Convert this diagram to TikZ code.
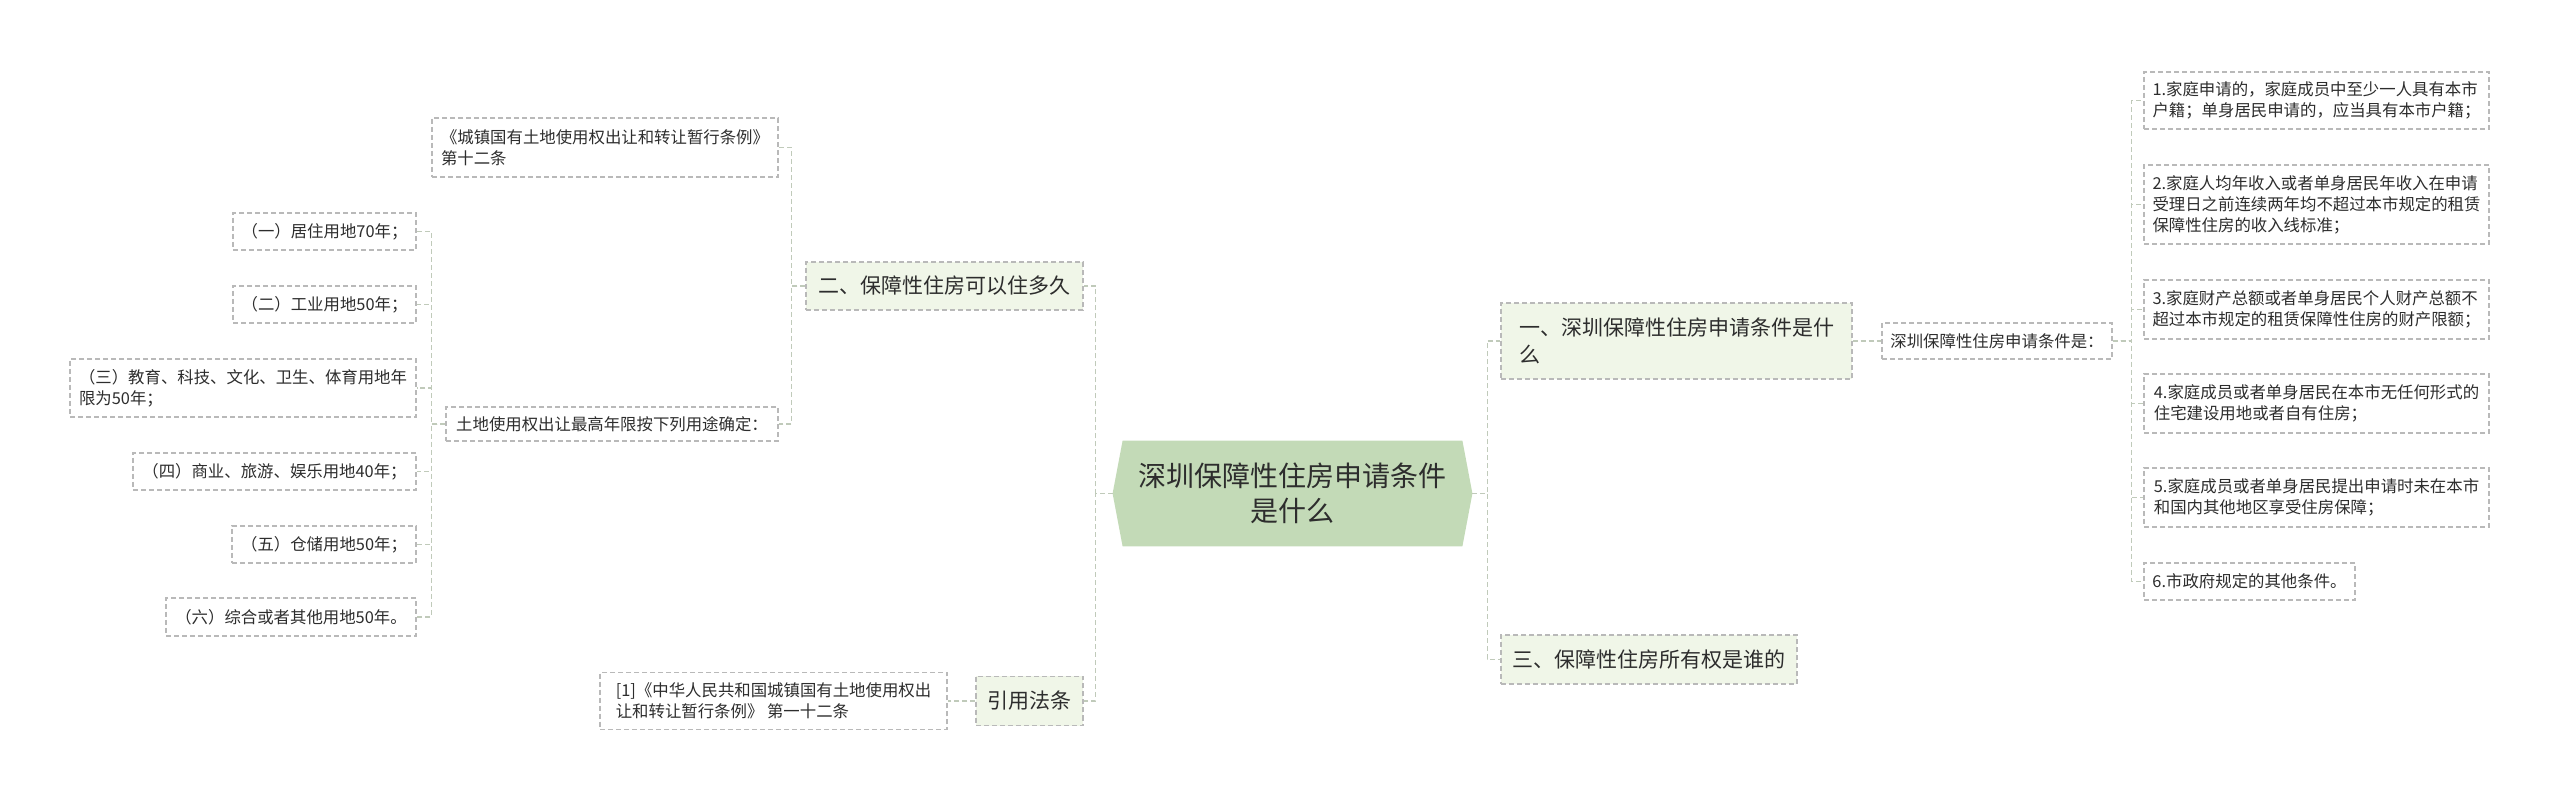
\documentclass[tikz,border=0pt]{standalone}
\usepackage{fontspec}
\setmainfont{Noto Sans CJK SC}
\usetikzlibrary{backgrounds}

\definecolor{rootgreen}{RGB}{195,218,183}
\definecolor{topicgreen}{RGB}{240,246,232}
\definecolor{boxgray}{RGB}{185,185,185}
\definecolor{linkgray}{RGB}{192,202,186}
\definecolor{txt}{RGB}{45,45,45}

\tikzset{
  root/.style={font=\fontsize{14pt}{17.5pt}\selectfont, align=center,
    minimum width=179.5pt, minimum height=52.5pt, inner sep=0pt, text=txt},
  topic/.style={draw=boxgray, dash pattern=on 2.5pt off 1.5pt, line width=0.6pt,
    fill=topicgreen, font=\fontsize{10.5pt}{13.5pt}\selectfont, align=left,
    inner xsep=4pt, inner ysep=2pt, text=txt},
  leaf/.style={draw=boxgray, dash pattern=on 2.5pt off 1.5pt, line width=0.6pt,
    fill=white, font=\fontsize{8.2pt}{10.5pt}\selectfont, align=left,
    inner xsep=4pt, inner ysep=2pt, text=txt},
  link/.style={draw=linkgray, dash pattern=on 2.5pt off 1.5pt, line width=0.75pt},
}

\begin{document}
\begin{tikzpicture}[x=0.5pt, y=-0.5pt]
    \path[use as bounding box] (0,0) rectangle (2560,801);

    % centre
    \node[root] (root) at (1292.5,493.5) {深圳保障性住房申请条件\\是什么};
    \begin{scope}[on background layer]
        \fill[rootgreen] (root.west) -- ([xshift=5pt]root.north west) -- ([xshift=-5pt]root.north east)
            -- (root.east) -- ([xshift=-5pt]root.south east) -- ([xshift=5pt]root.south west) -- cycle;
    \end{scope}

    % right branch
    \node[topic, minimum width=175.5pt, minimum height=38pt] (one) at (1676.5,341)
        {一、深圳保障性住房申请条件是什\\么};
    \node[topic, minimum width=148pt, minimum height=24.5pt] (three) at (1649,659.5)
        {三、保障性住房所有权是谁的};
    \node[leaf, minimum width=115pt, minimum height=18pt] (cond) at (1997,341)
        {深圳保障性住房申请条件是：};

    \node[leaf, minimum width=172.5pt, minimum height=28.5pt] (c1) at (2316.5,100.5)
        {1.家庭申请的，家庭成员中至少一人具有本市\\户籍；单身居民申请的，应当具有本市户籍；};
    \node[leaf, minimum width=172.5pt, minimum height=39.5pt] (c2) at (2316.5,204.5)
        {2.家庭人均年收入或者单身居民年收入在申请\\受理日之前连续两年均不超过本市规定的租赁\\保障性住房的收入线标准；};
    \node[leaf, minimum width=172.5pt, minimum height=29.5pt] (c3) at (2316.5,309.5)
        {3.家庭财产总额或者单身居民个人财产总额不\\超过本市规定的租赁保障性住房的财产限额；};
    \node[leaf, minimum width=172.5pt, minimum height=29.5pt] (c4) at (2316.5,403.5)
        {4.家庭成员或者单身居民在本市无任何形式的\\住宅建设用地或者自有住房；};
    \node[leaf, minimum width=172.5pt, minimum height=29.5pt] (c5) at (2316.5,497.5)
        {5.家庭成员或者单身居民提出申请时未在本市\\和国内其他地区享受住房保障；};
    \node[leaf, minimum width=105.5pt, minimum height=18.5pt] (c6) at (2249.5,581.5)
        {6.市政府规定的其他条件。};

    % left branch
    \node[topic, minimum width=138.5pt, minimum height=24pt] (two) at (944.5,286)
        {二、保障性住房可以住多久};
    \node[topic, minimum width=53.5pt, minimum height=24.5pt] (law) at (1029.5,701)
        {引用法条};
    \node[leaf, minimum width=173.5pt, minimum height=28.5pt] (cite) at (773.5,701)
        {[1]《中华人民共和国城镇国有土地使用权出\\让和转让暂行条例》 第一十二条};

    \node[leaf, minimum width=173pt, minimum height=29.5pt] (rule) at (605,147.5)
        {《城镇国有土地使用权出让和转让暂行条例》\\第十二条};
    \node[leaf, minimum width=166pt, minimum height=17pt] (term) at (612,424)
        {土地使用权出让最高年限按下列用途确定：};

    \node[leaf, minimum width=91.5pt, minimum height=18.5pt] (y1) at (324.5,231.5) {（一）居住用地70年；};
    \node[leaf, minimum width=91.5pt, minimum height=18.5pt] (y2) at (324.5,304.5) {（二）工业用地50年；};
    \node[leaf, minimum width=173pt, minimum height=29pt] (y3) at (243,388)
        {（三）教育、科技、文化、卫生、体育用地年\\限为50年；};
    \node[leaf, minimum width=141.5pt, minimum height=18.5pt] (y4) at (274.5,471.5) {（四）商业、旅游、娱乐用地40年；};
    \node[leaf, minimum width=92pt, minimum height=18.5pt] (y5) at (324,544.5) {（五）仓储用地50年；};
    \node[leaf, minimum width=125pt, minimum height=19pt] (y6) at (291,617) {（六）综合或者其他用地50年。};

    % connectors
    \draw[link] (root.east) -- ++(15,0) |- (one.west);
    \draw[link] (root.east) -- ++(15,0) |- (three.west);
    \draw[link] (one.east) -- (cond.west);
    \foreach \c in {c1,c2,c3,c4,c5,c6}
        \draw[link] (cond.east) -- ++(19,0) |- (\c.west);

    \draw[link] (root.west) -- ++(-17,0) |- (two.east);
    \draw[link] (root.west) -- ++(-17,0) |- (law.east);
    \draw[link] (law.west) -- (cite.east);
    \draw[link] (two.west) -- ++(-14,0) |- (rule.east);
    \draw[link] (two.west) -- ++(-14,0) |- (term.east);
    \foreach \y in {y1,y2,y3,y4,y5,y6}
        \draw[link] (term.west) -- ++(-14,0) |- (\y.east);
\end{tikzpicture}
\end{document}
